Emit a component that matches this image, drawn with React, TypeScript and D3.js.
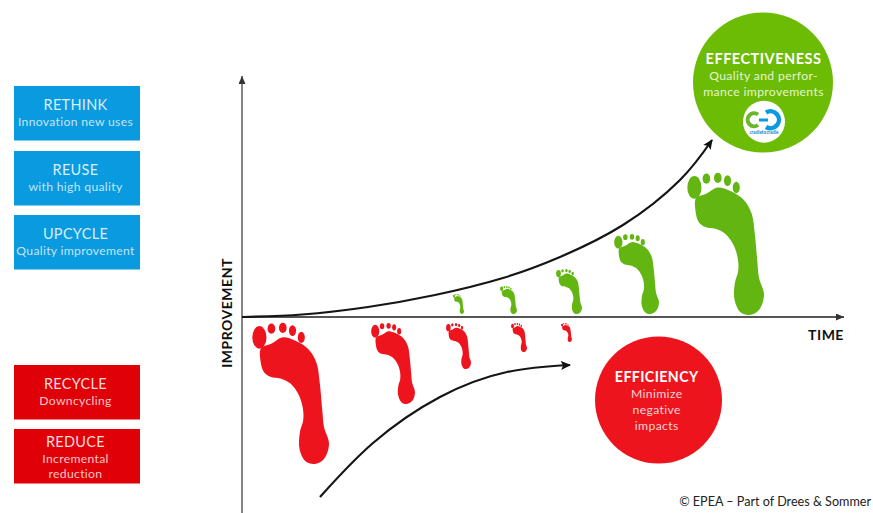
import React from "react";
import * as d3 from "d3";

const W = 873, H = 513;
const FONT = "Lato, 'Noto Sans', sans-serif";

// Axis data units: "time" and "improvement" offsets from the origin
const redFeetTime = [10, 129, 204, 269, 319];
const redFeetStart = [-6, -6, -6, -6, -6];
const redFeetLength = [141, 81, 46, 29, 19];
const redFeetWidth = [77, 44, 25, 16, 11];

const greenFeetTime = [211, 258, 314, 372, 445];
const greenFeetStart = [23, 31, 48, 83, 144];
const greenFeetLength = [20, 28, 45, 80, 142];
const greenFeetWidth = [11, 17, 26, 45, 77];

const effectivenessCurve: [number, number][] = [
  [0, 0], [60, 2.5], [126, 10], [193, 22], [261, 39], [318, 60], [381, 92], [438, 137], [470, 177],
];
const efficiencyCurve: [number, number][] = [
  [78, -180], [131, -126], [198, -80], [265, -55], [328, -48],
];

const blueBoxes = [
  { title: "RETHINK", lines: ["Innovation new uses"] },
  { title: "REUSE", lines: ["with high quality"] },
  { title: "UPCYCLE", lines: ["Quality improvement"] },
];
const redBoxes = [
  { title: "RECYCLE", lines: ["Downcycling"] },
  { title: "REDUCE", lines: ["Incremental", "reduction"] },
];
const blueTops = [86, 151, 215];
const redTops = [365, 429];

// Footprint glyph in a unit box
const soleOutline: [number, number][] = [
  [0.117, 0.179], [0.261, 0.143], [0.391, 0.102], [0.565, 0.126], [0.739, 0.19], [0.839, 0.286],
  [0.878, 0.417], [0.913, 0.619], [0.935, 0.738], [1, 0.857], [0.935, 0.964], [0.813, 1],
  [0.696, 0.981], [0.617, 0.893], [0.622, 0.774], [0.665, 0.69], [0.661, 0.607], [0.609, 0.512],
  [0.5, 0.429], [0.37, 0.393], [0.239, 0.381], [0.152, 0.345], [0.109, 0.262],
];
const toes: [number, number, number, number][] = [
  [0.096, 0.102, 0.092, 0.08], [0.252, 0.04, 0.05, 0.036], [0.4, 0.035, 0.05, 0.036],
  [0.526, 0.054, 0.046, 0.038], [0.64, 0.102, 0.046, 0.04],
];

const x = d3.scaleLinear().domain([0, 600]).range([242, 842]);
const y = d3.scaleLinear().domain([-196, 241]).range([513, 76]);

function Foot({ t, top: topVal, len, wid, color }: { t: number; top: number; len: number; wid: number; color: string }) {
  const left = x(t), top = y(topVal);
  const fx = d3.scaleLinear().domain([0, 1]).range([left, left + wid]);
  const fy = d3.scaleLinear().domain([0, 1]).range([top, top + len]);
  const d = d3.line<[number, number]>().x(p => fx(p[0])).y(p => fy(p[1])).curve(d3.curveCatmullRomClosed.alpha(0.5))(soleOutline)!;
  return (
    <g fill={color}>
      <path d={d} />
      {toes.map((e, i) => (
        <ellipse key={i} cx={fx(e[0])} cy={fy(e[1])} rx={e[2] * wid} ry={e[3] * len} />
      ))}
    </g>
  );
}

function Box({ top, fill, title, lines, ink }: { top: number; fill: string; title: string; lines: string[]; ink: string }) {
  const two = lines.length > 1;
  return (
    <g>
      <rect x={14} y={top} width={126} height={54.5} fill={fill} />
      <text x={75.5} y={top + (two ? 18 : 24)} textAnchor="middle" fill={ink} fontSize={14.5} fontWeight={400} letterSpacing={0.3}>{title}</text>
      {lines.map((l, i) => (
        <text key={i} x={75.5} y={top + (two ? 33.5 : 40) + i * 15.5} textAnchor="middle" fill={ink} fontSize={12.2} fontWeight={400} opacity={0.9} letterSpacing={0.3}>{l}</text>
      ))}
    </g>
  );
}

export default function App() {
  const curve = d3.line<[number, number]>().x(p => x(p[0])).y(p => y(p[1])).curve(d3.curveNatural);
  return (
    <svg width={W} height={H} viewBox={`0 0 ${W} ${H}`} style={{ position: "fixed", left: 0, top: 0, background: "#fff", fontFamily: FONT }}>
      <defs>
        <marker id="arrow" markerWidth={12} markerHeight={10} refX={9} refY={4.5} orient="auto" markerUnits="userSpaceOnUse">
          <path d="M0,0 L10,4.5 L0,9 L2,4.5 Z" fill="#111" />
        </marker>
        <marker id="axisArrow" markerWidth={9} markerHeight={8} refX={8} refY={3.5} orient="auto" markerUnits="userSpaceOnUse">
          <path d="M0,0 L8,3.5 L0,7 Z" fill="#333" />
        </marker>
      </defs>

      {blueBoxes.map((b, i) => <Box key={b.title} top={blueTops[i]} fill="#0a9ae0" ink="#d8eefa" title={b.title} lines={b.lines} />)}
      {redBoxes.map((b, i) => <Box key={b.title} top={redTops[i]} fill="#e00008" ink="#fbdcdc" title={b.title} lines={b.lines} />)}

      <line x1={x(0)} y1={y(-196)} x2={x(0)} y2={y(241)} stroke="#777" strokeWidth={1.8} markerEnd="url(#axisArrow)" />
      <line x1={x(0)} y1={y(0)} x2={x(602)} y2={y(0)} stroke="#555" strokeWidth={1.8} markerEnd="url(#axisArrow)" />

      {redFeetTime.map((t, i) => (
        <Foot key={"r" + i} t={t} top={redFeetStart[i]} len={redFeetLength[i]} wid={redFeetWidth[i]} color="#ee141e" />
      ))}
      {greenFeetTime.map((t, i) => (
        <Foot key={"g" + i} t={t} top={greenFeetStart[i]} len={greenFeetLength[i]} wid={greenFeetWidth[i]} color="#63b512" />
      ))}

      <path d={curve(effectivenessCurve)!} fill="none" stroke="#151515" strokeWidth={2.2} markerEnd="url(#arrow)" />
      <path d={curve(efficiencyCurve)!} fill="none" stroke="#151515" strokeWidth={2.2} markerEnd="url(#arrow)" />

      <circle cx={763} cy={82.5} r={70} fill="#6cbb04" />
      <text x={763.5} y={63.5} textAnchor="middle" fill="#fff" fontSize={14.5} fontWeight={700} letterSpacing={0.5}>EFFECTIVENESS</text>
      <text x={763.5} y={80} textAnchor="middle" fill="#e6f5d0" fontSize={12.2} letterSpacing={0.35}>Quality and perfor-</text>
      <text x={763.5} y={95.5} textAnchor="middle" fill="#e6f5d0" fontSize={12.2} letterSpacing={0.35}>mance improvements</text>
      <circle cx={764} cy={121.7} r={21} fill="#fff" />
      <path d="M758,114.5 A6.5,6.5 0 1 0 758,125" fill="none" stroke="#6cb52c" strokeWidth={4} />
      <path d="M766,112.5 A8.5,8.5 0 1 1 766,127" fill="none" stroke="#0a9ae0" strokeWidth={4.5} />
      <line x1={759} y1={120} x2={768} y2={120} stroke="#0a9ae0" strokeWidth={3} />
      <text x={764} y={133.5} textAnchor="middle" fill="#0a8ad0" fontSize={4.6} fontWeight={700}>cradletocradle</text>

      <circle cx={658.5} cy={400} r={63.5} fill="#ee141e" />
      <text x={656.7} y={382} textAnchor="middle" fill="#fff" fontSize={14.2} fontWeight={700} letterSpacing={0.4}>EFFICIENCY</text>
      <text x={656.7} y={398} textAnchor="middle" fill="#fbd5d5" fontSize={12.2} letterSpacing={0.35}>Minimize</text>
      <text x={656.7} y={414} textAnchor="middle" fill="#fbd5d5" fontSize={12.2} letterSpacing={0.35}>negative</text>
      <text x={656.7} y={430} textAnchor="middle" fill="#fbd5d5" fontSize={12.2} letterSpacing={0.35}>impacts</text>

      <text x={826} y={340} textAnchor="middle" fill="#111" fontSize={14} fontWeight={700} letterSpacing={0.5}>TIME</text>
      <text transform="translate(231.5,313) rotate(-90)" textAnchor="middle" fill="#111" fontSize={14} fontWeight={700} letterSpacing={0.5}>IMPROVEMENT</text>
      <text x={871} y={506} textAnchor="end" fill="#222" fontSize={12.6}>© EPEA – Part of Drees &amp; Sommer</text>
    </svg>
  );
}
